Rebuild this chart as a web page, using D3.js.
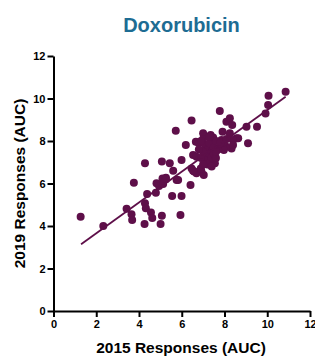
<!DOCTYPE html>
<html>
<head>
<meta charset="utf-8">
<script src="https://cdn.jsdelivr.net/npm/d3@7"></script>
<style>
  body { margin: 0; background: #fff; }
  text { font-family: Arial, "Liberation Sans", sans-serif; }
</style>
</head>
<body>
<svg width="315" height="356"></svg>
<script>
// ---- data ----
const title = "Doxorubicin";
const xLabel = "2015 Responses (AUC)";
const yLabel = "2019 Responses (AUC)";
const xTicks = [0, 2, 4, 6, 8, 10, 12];
const yTicks = [0, 2, 4, 6, 8, 10, 12];

// [2015 AUC, 2019 AUC]
const cellLines = [
  [1.27,4.44],[2.33,4.00],[3.42,4.81],[3.65,4.55],[3.68,4.28],[3.76,6.04],
  [4.28,6.95],[4.38,5.51],[4.28,5.07],[4.32,4.83],[4.26,4.09],[4.56,4.63],
  [4.62,4.38],[4.79,5.57],[4.82,6.01],[4.94,5.88],[5.01,4.09],[5.07,4.48],
  [5.07,7.03],[5.10,6.24],[5.13,5.98],[5.26,6.27],[5.44,6.95],[5.55,5.41],
  [5.60,6.60],[5.72,8.48],[5.76,6.16],[5.94,4.52],[5.99,7.11],[5.99,5.41],
  [6.19,7.81],[6.46,8.96],[6.41,5.93],[6.46,6.71],[6.53,7.34],[6.58,6.56],
  [6.66,7.97],[6.69,6.48],[6.92,6.56],[7.03,6.40],[7.00,8.36],[7.35,8.28],
  [7.47,8.17],[7.78,9.41],[7.55,6.95],[7.91,8.44],[7.97,7.70],[8.09,8.91],
  [8.25,9.07],[8.36,8.75],[8.25,8.36],[8.33,7.65],[8.56,8.13],[9.03,8.67],
  [9.10,7.89],[9.52,8.67],[9.92,9.30],[10.04,9.69],[10.06,10.13],[10.86,10.32],
  [7.86,8.05],[7.94,7.81],[8.09,7.73],[7.97,7.58],[7.28,7.11],[6.69,7.26],
  [6.89,6.71],[6.53,6.60],[8.64,8.13],[8.40,8.05],[8.40,7.81],[7.97,7.97],
  [6.80,7.90],[7.00,8.10],[7.10,7.80],[7.20,7.60],[7.30,7.90],[7.40,7.50],
  [7.50,7.70],[7.60,8.00],[7.10,7.30],[7.20,7.10],[7.30,7.40],[7.40,7.20],
  [7.00,7.50],[6.90,7.20],[7.50,7.40],[7.60,7.20],[7.70,7.60],[6.80,7.60],
  [7.20,6.90],[7.00,6.90],[7.40,6.80],[7.60,7.50],[7.30,8.20],[6.90,8.00],
  [7.80,7.90],[8.10,8.10],[5.83,6.16],[5.26,6.20]
];

// linear fit, end points as drawn
const fitX = [1.29, 10.86];
const fitY = [3.14, 10.08];

// ---- drawing ----
const svg = d3.select("svg");
const dotColor = "#5e0f49";

const x = d3.scaleLinear().domain([0, 12]).range([53.5, 310]);
const y = d3.scaleLinear().domain([0, 12]).range([311, 56]);

svg.append("text")
  .attr("x", 181.5).attr("y", 32)
  .attr("text-anchor", "middle")
  .style("font-size", "20px").style("font-weight", "bold")
  .style("fill", "#1d6c93")
  .text(title);

const xAxis = svg.append("g")
  .attr("transform", `translate(0,${y(0)})`)
  .call(d3.axisBottom(x).tickValues(xTicks).tickSize(6).tickPadding(3).tickSizeOuter(0));

const yAxis = svg.append("g")
  .attr("transform", `translate(${x(0)},0)`)
  .call(d3.axisLeft(y).tickValues(yTicks).tickSize(6).tickPadding(2).tickSizeOuter(0));

[xAxis, yAxis].forEach(g => {
  g.select(".domain").attr("stroke", "#000").attr("stroke-width", 2);
  g.selectAll(".tick line").attr("stroke", "#000").attr("stroke-width", 2);
  g.selectAll(".tick text")
    .style("font-size", "11px").style("font-weight", "bold")
    .style("font-family", "Arial, 'Liberation Sans', sans-serif")
    .attr("fill", "#000");
});

svg.append("text")
  .attr("x", 181).attr("y", 353)
  .attr("text-anchor", "middle")
  .style("font-size", "15.5px").style("font-weight", "bold")
  .text(xLabel);

svg.append("text")
  .attr("transform", `translate(25,${(y(0) + y(12)) / 2}) rotate(-90)`)
  .attr("text-anchor", "middle")
  .style("font-size", "15.5px").style("font-weight", "bold")
  .text(yLabel);

svg.append("g").selectAll("circle")
  .data(cellLines)
  .enter().append("circle")
  .attr("cx", d => x(d[0]))
  .attr("cy", d => y(d[1]))
  .attr("r", 4)
  .attr("fill", dotColor);

svg.append("line")
  .attr("x1", x(fitX[0])).attr("y1", y(fitY[0]))
  .attr("x2", x(fitX[1])).attr("y2", y(fitY[1]))
  .attr("stroke", dotColor)
  .attr("stroke-width", 1.8);
</script>
</body>
</html>
